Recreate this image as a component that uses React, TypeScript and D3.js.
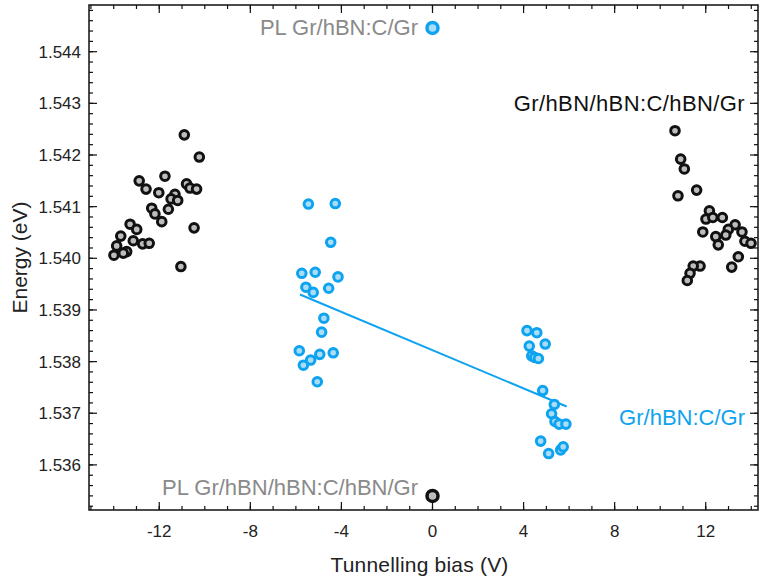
import * as d3 from 'd3';
import React from 'react';

// Gr/hBN/hBN:C/hBN/Gr (black) points
const blackBias = [
  -10.9, -10.24, -11.75, -12.88, -12.58, -12.02, -10.8, -10.65, -10.36, -11.31,
  -11.48, -11.19, -12.33, -11.6, -12.19, -11.89, -10.47, -13.28, -12.99, -13.69,
  -13.14, -12.73, -12.44, -13.87, -13.43, -13.99, -13.58, -11.05,
  10.65, 10.9, 11.06, 11.6, 10.78, 12.16, 12.01, 12.31, 12.73, 11.87,
  13.29, 12.99, 13.59, 12.44, 12.88, 13.72, 13.99, 12.55, 13.43, 13.14,
  11.75, 11.45, 11.31, 11.19,
];
const blackEnergy = [
  1.54239, 1.54196, 1.54159, 1.5415, 1.54134, 1.54127, 1.54144, 1.54136, 1.54134, 1.54124,
  1.54115, 1.54112, 1.54097, 1.54095, 1.54086, 1.54071, 1.54059, 1.54066, 1.54056, 1.54043,
  1.54034, 1.54028, 1.54029, 1.54024, 1.54013, 1.54006, 1.5401, 1.53984,
  1.54247, 1.54192, 1.54173, 1.54132, 1.54121, 1.54092, 1.54076, 1.54079, 1.54079, 1.54051,
  1.54065, 1.54056, 1.54051, 1.54042, 1.54045, 1.54033, 1.54029, 1.54026, 1.54003, 1.53983,
  1.53985, 1.53985, 1.53971, 1.53957,
];

// Gr/hBN:C/Gr (blue) points
const blueBias = [
  -5.45, -4.27, -4.47, -5.74, -5.15, -4.15, -5.56, -5.24, -4.56, -4.77,
  -4.87, -5.85, -5.35, -4.95, -4.36, -5.67, -5.06,
  4.15, 4.58, 4.25, 4.95, 4.36, 4.49, 4.65, 4.84, 5.35, 5.23,
  5.38, 5.56, 5.86, 4.75, 5.1, 5.63, 5.74,
];
const blueEnergy = [
  1.54105, 1.54106, 1.54031, 1.53971, 1.53973, 1.53964, 1.53944, 1.53934, 1.53942, 1.53884,
  1.53857, 1.53821, 1.53803, 1.53814, 1.53817, 1.53793, 1.53761,
  1.5386, 1.53856, 1.5383, 1.53834, 1.53811, 1.53808, 1.53806, 1.53744, 1.53717, 1.53699,
  1.53684, 1.53679, 1.53679, 1.53646, 1.53622, 1.53629, 1.53635,
];

// linear fit through the blue points
const fitBias = [-5.82, 5.89];
const fitEnergy = [1.5393, 1.53713];

// PL reference points at zero bias
const plBias = [0, 0];
const plEnergy = [1.54446, 1.5354];

const xMajorTicks = [-12, -8, -4, 0, 4, 8, 12];
const yMajorTicks = [1.536, 1.537, 1.538, 1.539, 1.54, 1.541, 1.542, 1.543, 1.544];

const W = 760;
const H = 579;
const left = 89;
const right = 758;
const top = 5;
const bottom = 510;

const BLUE = '#0ea3f0';
const BLUE_FILL = '#a9dcf7';
const BLACK = '#111';
const GRAY_FILL = '#bdbdbd';
const FONT = '"Liberation Sans", Arial, sans-serif';

export default function App() {
  const x = d3.scaleLinear().domain([-15.085, 14.295]).range([left, right]);
  const y = d3.scaleLinear().domain([1.5351268, 1.5449042]).range([bottom, top]);

  const xMinor = d3.range(-15, 15, 1).filter(v => x(v) >= left && x(v) <= right);
  const yMinor = d3.range(0, 50).map(i => 1.5352 + i * 0.0002).filter(v => y(v) >= top && y(v) <= bottom);

  const line = d3.line<number>()
    .x((_, i) => x(fitBias[i]))
    .y(d => y(d));

  return (
    <svg width={W} height={H} style={{ position: 'absolute', left: 0, top: 0 }} fontFamily={FONT}>
      <rect x={0} y={0} width={W} height={H} fill="#fff" />

      {/* ticks, inward on all four sides */}
      <g stroke={BLACK} strokeWidth={1.2}>
        {xMinor.map(v => (
          <g key={'xm' + v}>
            <line x1={x(v)} x2={x(v)} y1={bottom} y2={bottom - 4} />
            <line x1={x(v)} x2={x(v)} y1={top} y2={top + 4} />
          </g>
        ))}
        {yMinor.map(v => (
          <g key={'ym' + v}>
            <line x1={left} x2={left + 4} y1={y(v)} y2={y(v)} />
            <line x1={right} x2={right - 4} y1={y(v)} y2={y(v)} />
          </g>
        ))}
        {xMajorTicks.map(v => (
          <g key={'xM' + v}>
            <line x1={x(v)} x2={x(v)} y1={bottom} y2={bottom - 8} />
            <line x1={x(v)} x2={x(v)} y1={top} y2={top + 8} />
          </g>
        ))}
        {yMajorTicks.map(v => (
          <g key={'yM' + v}>
            <line x1={left} x2={left + 8} y1={y(v)} y2={y(v)} />
            <line x1={right} x2={right - 8} y1={y(v)} y2={y(v)} />
          </g>
        ))}
      </g>
      <rect x={left} y={top} width={right - left} height={bottom - top} fill="none" stroke={BLACK} strokeWidth={1.5} />

      {/* tick labels */}
      <g fontSize={17} fill="#222">
        {xMajorTicks.map(v => (
          <text key={'xl' + v} x={x(v)} y={bottom + 27} textAnchor="middle">
            {v < 0 ? '-' + Math.abs(v) : v}
          </text>
        ))}
        {yMajorTicks.map(v => (
          <text key={'yl' + v} x={left - 8} y={y(v) + 6} textAnchor="end">
            {v.toFixed(3)}
          </text>
        ))}
      </g>

      {/* axis titles */}
      <text x={(left + right) / 2 - 4} y={572} textAnchor="middle" fontSize={21} fill="#222" letterSpacing={0.2}>
        Tunnelling bias (V)
      </text>
      <text transform={`translate(27,${(top + bottom) / 2}) rotate(-90)`} textAnchor="middle" fontSize={21} fill="#222">
        Energy (eV)
      </text>

      {/* fit line */}
      <path d={line(fitEnergy) || ''} fill="none" stroke={BLUE} strokeWidth={2} />

      {/* data */}
      {blackBias.map((b, i) => (
        <circle key={'k' + i} cx={x(b)} cy={y(blackEnergy[i])} r={4.3} fill={GRAY_FILL} stroke={BLACK} strokeWidth={3} />
      ))}
      {blueBias.map((b, i) => (
        <circle key={'b' + i} cx={x(b)} cy={y(blueEnergy[i])} r={4.3} fill={BLUE_FILL} stroke={BLUE} strokeWidth={3} />
      ))}

      {/* PL markers */}
      <circle cx={x(plBias[0])} cy={y(plEnergy[0])} r={5.5} fill={BLUE_FILL} stroke={BLUE} strokeWidth={3.5} />
      <circle cx={x(plBias[1])} cy={y(plEnergy[1])} r={5.5} fill={GRAY_FILL} stroke={BLACK} strokeWidth={3.5} />

      {/* labels */}
      <g fontSize={22}>
        <text x={418} y={35} textAnchor="end" fill="#8a8a8a">PL Gr/hBN:C/Gr</text>
        <text x={418} y={495} textAnchor="end" fill="#8a8a8a">PL Gr/hBN/hBN:C/hBN/Gr</text>
        <text x={745} y={111} textAnchor="end" fill={BLACK} letterSpacing={0.4}>Gr/hBN/hBN:C/hBN/Gr</text>
        <text x={745} y={425} textAnchor="end" fill={BLUE}>Gr/hBN:C/Gr</text>
      </g>
    </svg>
  );
}
